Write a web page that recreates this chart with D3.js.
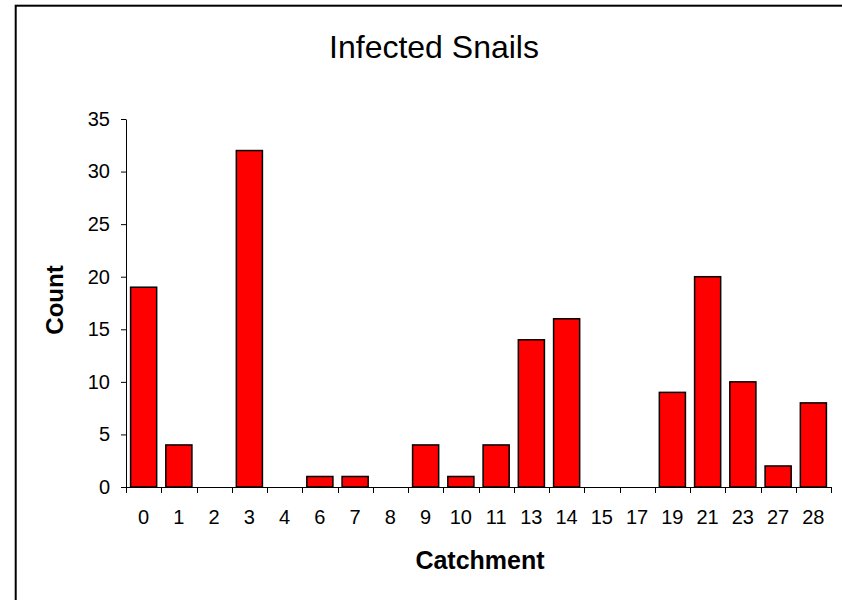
<!DOCTYPE html>
<html>
<head>
<meta charset="utf-8">
<script src="https://cdn.jsdelivr.net/npm/d3@7"></script>
<style>
  body { margin: 0; background: #fff; }
  text { font-family: Arial, "Liberation Sans", sans-serif; fill: #000; }
</style>
</head>
<body>
<div id="chart-area"></div>
<script>
// catchments and infected snail counts
const catchments = ["0", "1", "2", "3", "4", "6", "7", "8", "9", "10",
                    "11", "13", "14", "15", "17", "19", "21", "23", "27", "28"];
const counts = [19, 4, 0, 32, 0, 1, 1, 0, 4, 1,
                4, 14, 16, 0, 0, 9, 20, 10, 2, 8];
const yTicks = [0, 5, 10, 15, 20, 25, 30, 35];

const data = catchments.map((c, i) => ({ name: c, value: counts[i] }));

const width = 842, height = 600;
const margin = { left: 126, right: 11, top: 119, bottom: 113 };
const gap = 0.26;

const svg = d3.select("#chart-area")
  .append("svg")
    .attr("width", width)
    .attr("height", height);

// outer frame (runs off the right and bottom edges)
svg.append("rect")
  .attr("x", 15.7)
  .attr("y", 5.7)
  .attr("width", 900)
  .attr("height", 700)
  .attr("fill", "none")
  .attr("stroke", "#000")
  .attr("stroke-width", 2);

const x = d3.scaleBand()
  .domain(catchments)
  .range([margin.left, width - margin.right])
  .paddingInner(gap)
  .paddingOuter(gap / 2);

const y = d3.scaleLinear()
  .domain([0, 35])
  .range([height - margin.bottom, margin.top]);

// bars
svg.append("g")
  .selectAll("rect")
  .data(data)
  .enter()
  .append("rect")
    .attr("x", d => x(d.name))
    .attr("y", d => y(d.value))
    .attr("width", x.bandwidth())
    .attr("height", d => y(0) - y(d.value))
    .attr("fill", "#ff0000")
    .attr("stroke", "#000")
    .attr("stroke-width", 1.5);

// y axis
const yAxis = svg.append("g")
  .attr("transform", `translate(${margin.left},0)`)
  .call(d3.axisLeft(y).tickValues(yTicks).tickSize(5).tickPadding(11).tickSizeOuter(0));
yAxis.select(".domain").attr("stroke", "#000");
yAxis.selectAll("text").attr("font-size", "20px").attr("font-family", "Arial, 'Liberation Sans', sans-serif");

// x axis: labels under bars, ticks on category boundaries
const xAxis = svg.append("g")
  .attr("transform", `translate(0,${y(0)})`)
  .call(d3.axisBottom(x).tickSize(0).tickPadding(23).tickSizeOuter(0));
xAxis.selectAll("text").attr("font-size", "20px").attr("font-family", "Arial, 'Liberation Sans', sans-serif");
xAxis.select(".domain").attr("stroke", "#000").attr("d", `M${margin.left},0.5H${width - margin.right}`);

const bounds = catchments.map(c => x(c) - x.step() * gap / 2);
bounds.push(width - margin.right);
xAxis.selectAll(".bound")
  .data(bounds)
  .enter()
  .append("line")
    .attr("class", "bound")
    .attr("x1", d => Math.round(d) + 0.5)
    .attr("x2", d => Math.round(d) + 0.5)
    .attr("y1", 0)
    .attr("y2", 6)
    .attr("stroke", "#000");

// titles
svg.append("text")
  .attr("x", 434)
  .attr("y", 58)
  .attr("text-anchor", "middle")
  .attr("font-size", "32px")
  .text("Infected Snails");

svg.append("text")
  .attr("x", 480)
  .attr("y", 569)
  .attr("text-anchor", "middle")
  .attr("font-size", "25px")
  .attr("font-weight", "bold")
  .text("Catchment");

svg.append("text")
  .attr("transform", "translate(63,300) rotate(-90)")
  .attr("text-anchor", "middle")
  .attr("font-size", "24px")
  .attr("font-weight", "bold")
  .text("Count");
</script>
</body>
</html>
